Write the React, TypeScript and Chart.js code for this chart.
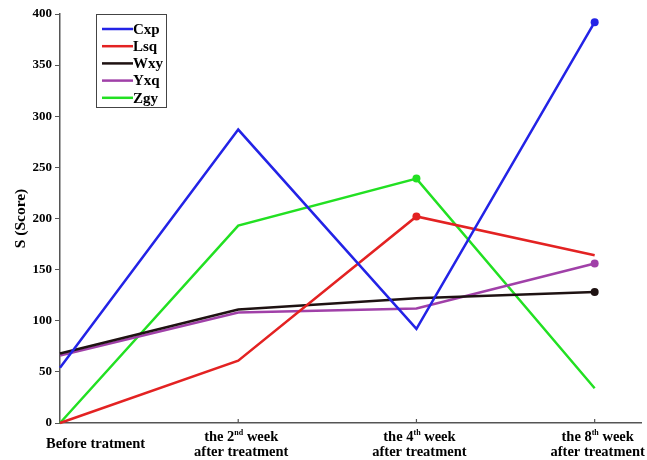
import React, { useEffect, useRef } from "react";
import { Chart, registerables } from "chart.js";
Chart.register(...registerables);

const catMain = ["Before tratment", "the 2", "the 4", "the 8"];
const catSup = ["", "nd", "th", "th"];
const catTail = ["", " week", " week", " week"];
const catLine2 = ["", "after treatment", "after treatment", "after treatment"];

const seriesNames = ["Cxp", "Lsq", "Wxy", "Yxq", "Zgy"];
const seriesColors = ["#2323e6", "#e32222", "#1e1212", "#a040a8", "#22e022"];
const cxp = [54, 287, 92, 392];
const lsq = [0, 61, 202, 164];
const wxy = [68, 111, 122, 128];
const yxq = [66, 108, 112, 156];
const zgy = [0, 193, 239, 34];
const seriesValues = [cxp, lsq, wxy, yxq, zgy];
const markerRadius = [
  [0, 0, 0, 4],
  [0, 0, 4, 0],
  [0, 0, 0, 4],
  [0, 0, 0, 4],
  [0, 0, 4, 0],
];

const yMin = 0;
const yMax = 400;
const yStep = 50;
const yTitle = "S (Score)";

const FONT = "'Liberation Serif', 'Times New Roman', serif";

const xLabelsPlugin = {
  id: "xLabels",
  afterDraw(chart: any) {
    const ctx = chart.ctx;
    const xs = chart.scales.x;
    const bottom = chart.chartArea.bottom;
    ctx.save();
    ctx.strokeStyle = "#555";
    ctx.lineWidth = 1.2;
    for (let i = 1; i < catMain.length; i++) {
      const px = xs.getPixelForValue(i);
      ctx.beginPath();
      ctx.moveTo(px, bottom);
      ctx.lineTo(px, bottom - 4);
      ctx.stroke();
    }
    ctx.fillStyle = "#000";
    ctx.textBaseline = "alphabetic";
    ctx.textAlign = "left";
    const big = `bold 14.5px ${FONT}`;
    const small = `bold 8px ${FONT}`;
    for (let i = 0; i < catMain.length; i++) {
      const px = xs.getPixelForValue(i) + 3;
      ctx.font = big;
      if (!catLine2[i]) {
        const w = ctx.measureText(catMain[i]).width;
        let left = px - w / 2;
        if (left < 46) left = 46;
        ctx.fillText(catMain[i], left, bottom + 25);
        continue;
      }
      const w1 = ctx.measureText(catMain[i]).width;
      ctx.font = small;
      const w2 = ctx.measureText(catSup[i]).width;
      ctx.font = big;
      const w3 = ctx.measureText(catTail[i]).width;
      const total = w1 + w2 + w3;
      const x0 = px - total / 2;
      ctx.fillText(catMain[i], x0, bottom + 18);
      ctx.font = small;
      ctx.fillText(catSup[i], x0 + w1, bottom + 12);
      ctx.font = big;
      ctx.fillText(catTail[i], x0 + w1 + w2, bottom + 18);
      const wl = ctx.measureText(catLine2[i]).width;
      ctx.fillText(catLine2[i], px - wl / 2, bottom + 33);
    }
    ctx.restore();
  },
};

const legendPlugin = {
  id: "boxLegend",
  afterDraw(chart: any) {
    const ctx = chart.ctx;
    ctx.save();
    ctx.strokeStyle = "#444";
    ctx.lineWidth = 1;
    ctx.strokeRect(96.5, 14.5, 70, 93);
    ctx.font = `bold 15px ${FONT}`;
    ctx.textBaseline = "middle";
    ctx.textAlign = "left";
    seriesNames.forEach((name, i) => {
      const y = 29 + i * 17.2;
      ctx.strokeStyle = seriesColors[i];
      ctx.lineWidth = 2.5;
      ctx.beginPath();
      ctx.moveTo(102, y);
      ctx.lineTo(133, y);
      ctx.stroke();
      ctx.fillStyle = "#000";
      ctx.fillText(name, 133, y + 1);
    });
    ctx.restore();
  },
};

export default function App() {
  const ref = useRef<HTMLCanvasElement>(null);
  useEffect(() => {
    if (!ref.current) return;
    const chart = new Chart(ref.current, {
      type: "line",
      data: {
        datasets: seriesNames.map((name, s) => ({
          label: name,
          data: seriesValues[s].map((v, i) => ({ x: i, y: v })),
          borderColor: seriesColors[s],
          backgroundColor: seriesColors[s],
          borderWidth: 2.5,
          pointRadius: markerRadius[s],
          pointBorderWidth: 0,
          tension: 0,
          clip: false as any,
        })),
      },
      options: {
        animation: false,
        responsive: false,
        maintainAspectRatio: false,
        layout: { padding: { left: 12, right: 6, top: 14, bottom: 37 } },
        plugins: { legend: { display: false }, tooltip: { enabled: false } },
        scales: {
          x: {
            type: "linear",
            min: 0,
            max: 3.26,
            ticks: { display: false },
            grid: { display: false, drawTicks: false },
            border: { display: true, color: "#555", width: 1.5 },
          },
          y: {
            min: yMin,
            max: yMax,
            ticks: {
              stepSize: yStep,
              color: "#000",
              font: { family: FONT, size: 13, weight: "bold" },
              padding: 3,
            },
            grid: { drawOnChartArea: false, drawTicks: true, tickLength: 5, color: "#555" },
            border: { display: true, color: "#555", width: 1.5 },
            title: {
              display: true,
              text: yTitle,
              color: "#000",
              font: { family: FONT, size: 15.5, weight: "bold" },
              padding: 0,
            },
            afterFit: (s: any) => {
              s.width = 48;
            },
          },
        },
      },
      plugins: [xLabelsPlugin, legendPlugin],
    } as any);
    return () => chart.destroy();
  }, []);
  return (
    <div style={{ position: "fixed", left: 0, top: 0, width: 647, height: 460, background: "#fff" }}>
      <canvas ref={ref} width={647} height={460} style={{ width: 647, height: 460 }} />
    </div>
  );
}
